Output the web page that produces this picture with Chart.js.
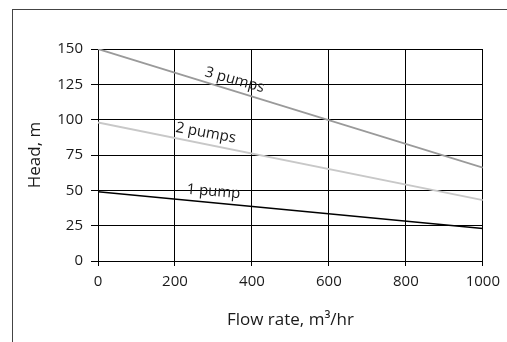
<!DOCTYPE html>
<html lang="en">
<head>
<meta charset="UTF-8">
<title>Pump curves</title>
<script src="https://cdn.jsdelivr.net/npm/chart.js"></script>
<style>
    html, body { margin: 0; padding: 0; background: #fff; }
    #wrap { position: relative; width: 507px; height: 342px; overflow: hidden; }
    #frame { position: absolute; left: 12px; top: 9px; width: 600px; height: 400px;
             border-left: 1px solid #444; border-top: 1px solid #444; }
    #chart { position: absolute; left: 0; top: 0; }
</style>
</head>
<body>
<div id="wrap">
    <div id="frame"></div>
    <canvas id="chart" width="507" height="342"></canvas>
</div>
<script>
// flow rate, m3/hr
const flow = [0, 1000];
// head, m
const onePump = [49, 23];
const twoPumps = [98, 43];
const threePumps = [150, 66];

const seriesNames = ["1 pump", "2 pumps", "3 pumps"];
const seriesColors = ["#000000", "#c8c8c8", "#9a9a9a"];
// where each name sits on the chart, in data units
const labelAt = [[300, 49], [280, 90.5], [355, 128]];

const xTicks = [0, 200, 400, 600, 800, 1000];
const yTicks = [0, 25, 50, 75, 100, 125, 150];

const fontFam = "'Open Sans', 'Liberation Sans', sans-serif";
const ink = "#1a1a1a";

function pts(ys) {
    return flow.map((x, i) => ({ x: x, y: ys[i] }));
}

// writes the series names along their lines
const lineNames = {
    id: 'lineNames',
    afterDatasetsDraw(chart) {
        const ctx = chart.ctx;
        const xs = chart.scales.x, ys = chart.scales.y;
        chart.data.datasets.forEach((ds, i) => {
            const d = ds.data;
            const dx = xs.getPixelForValue(d[1].x) - xs.getPixelForValue(d[0].x);
            const dy = ys.getPixelForValue(d[1].y) - ys.getPixelForValue(d[0].y);
            const ang = Math.atan2(dy, dx) * 0.9;
            const px = xs.getPixelForValue(labelAt[i][0]);
            const py = ys.getPixelForValue(labelAt[i][1]);
            ctx.save();
            ctx.translate(px, py);
            ctx.rotate(ang);
            ctx.font = "15px " + fontFam;
            ctx.fillStyle = ink;
            ctx.textAlign = 'center';
            ctx.textBaseline = 'middle';
            ctx.fillText(seriesNames[i], 0, 0);
            ctx.restore();
        });
    }
};

new Chart(document.getElementById("chart"), {
    type: 'line',
    data: {
        datasets: [
            { label: seriesNames[0], data: pts(onePump), borderColor: seriesColors[0], borderWidth: 1.6, pointRadius: 0 },
            { label: seriesNames[1], data: pts(twoPumps), borderColor: seriesColors[1], borderWidth: 1.8, pointRadius: 0 },
            { label: seriesNames[2], data: pts(threePumps), borderColor: seriesColors[2], borderWidth: 1.8, pointRadius: 0 }
        ]
    },
    options: {
        responsive: false,
        animation: false,
        devicePixelRatio: 1,
        layout: { padding: { left: 0, top: 49, right: 23, bottom: 8 } },
        plugins: { legend: { display: false }, tooltip: { enabled: false } },
        scales: {
            x: {
                type: 'linear',
                min: 0, max: 1000,
                afterBuildTicks: s => { s.ticks = xTicks.map(v => ({ value: v })); },
                afterFit: s => { s.height = 342 - 8 - 261; },
                grid: { color: '#000', lineWidth: 1, tickLength: 5, drawTicks: true },
                border: { color: '#000', width: 1 },
                ticks: { color: ink, font: { family: fontFam, size: 15 }, padding: 7, maxRotation: 0,
                         callback: v => String(v) },
                title: {
                    display: true,
                    text: 'Flow rate, m\u00b3/hr',
                    color: ink,
                    font: { family: fontFam, size: 17 },
                    padding: { top: 0, bottom: 4 }
                }
            },
            y: {
                min: 0, max: 150,
                afterBuildTicks: s => { s.ticks = yTicks.map(v => ({ value: v })); },
                afterFit: s => { s.width = 98; },
                grid: { color: '#000', lineWidth: 1, tickLength: 7, drawTicks: true },
                border: { color: '#000', width: 1 },
                ticks: { color: ink, font: { family: fontFam, size: 15 }, padding: 8,
                         callback: v => String(v) },
                title: {
                    display: true,
                    text: 'Head, m',
                    color: ink,
                    font: { family: fontFam, size: 17 },
                    padding: { top: 25, bottom: 0 }
                }
            }
        }
    },
    plugins: [lineNames]
});
</script>
</body>
</html>
